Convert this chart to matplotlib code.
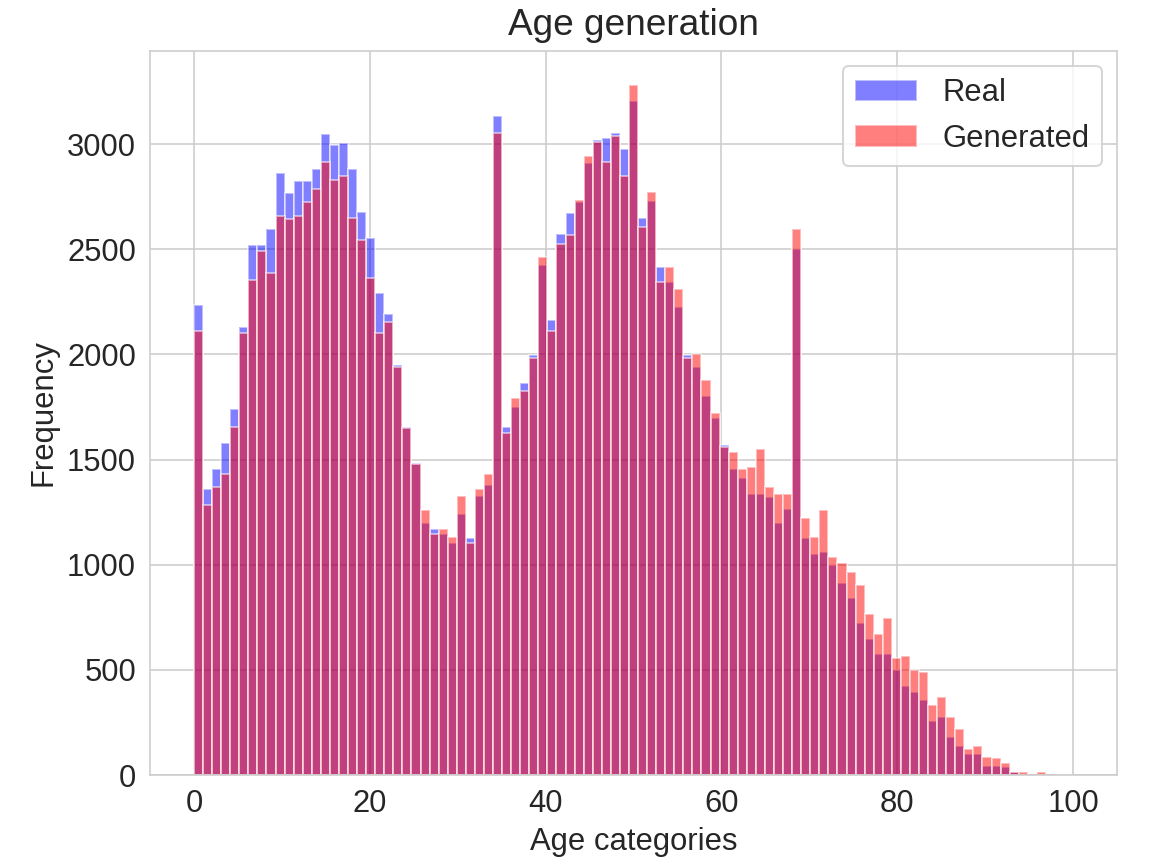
import numpy as np
import matplotlib
matplotlib.use('Agg')
import matplotlib.pyplot as plt
import seaborn as sns

sns.set_style('whitegrid')
plt.rcParams['font.family'] = ['Liberation Sans', 'DejaVu Sans']

# 97 equal-width age bins covering 0..100
bin_edges = np.linspace(0, 100, 98)

real_counts = [
    2235, 1358, 1453, 1580, 1739, 2132, 2520, 2520, 2595, 2861,
    2766, 2826, 2826, 2880, 3048, 2996, 3007, 2880, 2679, 2552,
    2290, 2192, 1950, 1656, 1485, 1200, 1168, 1144, 1105, 1241,
    1125, 1327, 1379, 3134, 1653, 1751, 1866, 1995, 2425, 2164,
    2573, 2671, 2726, 2912, 3020, 3031, 3051, 2975, 3206, 2647,
    2731, 2414, 2346, 2224, 1997, 1939, 1802, 1696, 1569, 1454,
    1411, 1336, 1336, 1323, 1200, 1263, 2500, 1125, 1051, 1062,
    999, 912, 840, 721, 647, 575, 575, 499, 425, 396,
    357, 258, 277, 182, 139, 98, 98, 44, 44, 40,
    16, 5, 3, 3, 4, 0, 1,
]

gen_counts = [
    2113, 1284, 1368, 1431, 1653, 2100, 2354, 2493, 2385, 2660,
    2642, 2660, 2725, 2787, 2913, 2829, 2850, 2650, 2544, 2362,
    2100, 2156, 1942, 1650, 1480, 1260, 1147, 1168, 1133, 1327,
    1102, 1358, 1431, 3051, 1625, 1791, 1827, 1985, 2465, 2113,
    2525, 2568, 2734, 2943, 3011, 2916, 3039, 2848, 3281, 2607,
    2774, 2346, 2414, 2310, 1981, 2002, 1878, 1720, 1561, 1537,
    1454, 1466, 1549, 1368, 1336, 1336, 2595, 1220, 1133, 1260,
    1038, 1010, 967, 903, 766, 670, 745, 555, 566, 499,
    491, 333, 372, 277, 217, 122, 139, 87, 79, 56,
    16, 16, 3, 16, 4, 0, 1,
]

fig, ax = plt.subplots(figsize=(1151 / 144, 862 / 144))
fig.subplots_adjust(left=0.1303, right=0.9705, bottom=0.1009, top=0.9414)

ax.hist(bin_edges[:-1], bins=bin_edges, weights=real_counts,
        color='blue', alpha=0.5, label='Real')
ax.hist(bin_edges[:-1], bins=bin_edges, weights=gen_counts,
        color='red', alpha=0.5, label='Generated')

ax.set_title('Age generation', fontsize=18.5, pad=8)
ax.set_xlabel('Age categories', fontsize=15.5)
ax.set_ylabel('Frequency', fontsize=15.5)
ax.tick_params(labelsize=15.5)
ax.legend(loc='upper right', fontsize=15.5)

plt.savefig('out.png', dpi=144)
